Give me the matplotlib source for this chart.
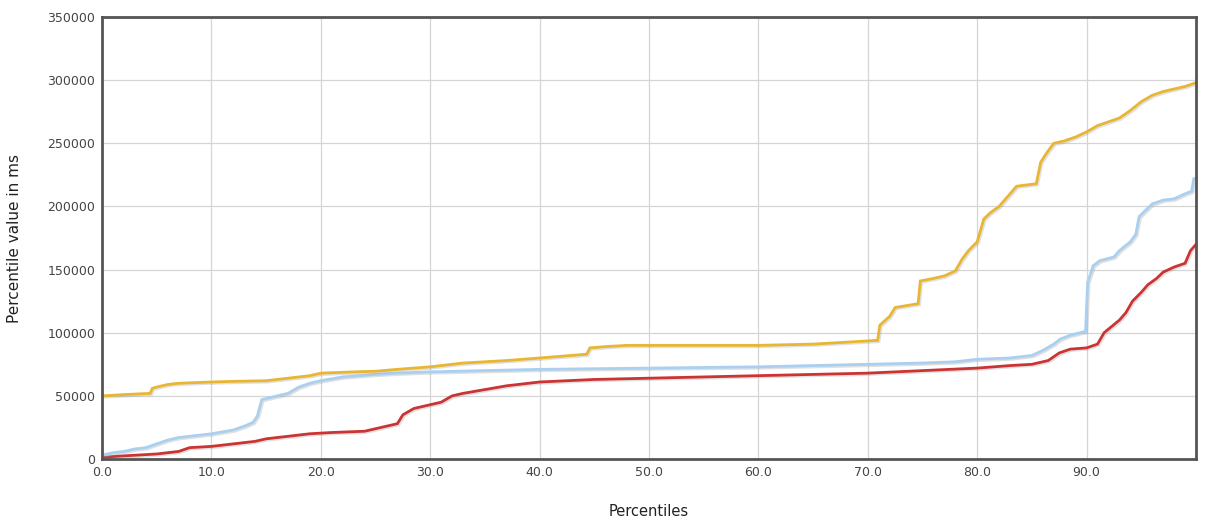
import matplotlib
matplotlib.use("Agg")
import matplotlib.pyplot as plt
import matplotlib.patheffects as pe
from matplotlib.ticker import FuncFormatter

# percentile positions and values (ms)
yellow_x = [0, 2, 4.4, 4.6, 5, 6, 7, 10, 12, 15, 17, 18, 19, 20, 23, 25, 27, 30, 31, 33, 35, 37,
            40, 44.3, 44.6, 46, 48, 55, 60, 65, 67, 69, 70.9, 71.1, 72, 72.5, 74.6, 74.8, 76,
            77, 78, 78.6, 79.2, 80, 80.6, 81.2, 82, 83, 83.6, 85.4, 85.8, 86.4, 87, 88, 89,
            90, 91, 92, 93, 94, 95, 96, 97, 98, 99, 100]
yellow_y = [50000, 51000, 52000, 56000, 57000, 59000, 60000, 61000, 61500, 62000, 64000, 65000,
            66000, 68000, 69000, 69500, 71000, 73000, 74000, 76000, 77000, 78000, 80000,
            83000, 88000, 89000, 90000, 90000, 90000, 91000, 92000, 93000, 94000, 106000,
            113000, 120000, 123000, 141000, 143000, 145000, 149000, 158000, 165000, 172000,
            190000, 195000, 200000, 210000, 216000, 218000, 235000, 243000, 250000, 252000,
            255000, 259000, 264000, 267000, 270000, 276000, 283000, 288000, 291000, 293000,
            295000, 298000]

blue_x = [0, 1, 2, 3, 4, 5, 6, 7, 8, 10, 12, 13, 13.8, 14.2, 14.6, 16, 17, 18, 19, 20, 22, 25,
          27, 30, 35, 40, 50, 60, 70, 75, 78, 80, 83, 85, 86, 87, 87.6, 88.5, 89.4, 89.9, 90.1,
          90.6, 91.2, 92.5, 93, 94, 94.5, 94.8, 96, 97, 98, 99, 99.6, 99.8, 100]
blue_y = [3000, 5000, 6000, 8000, 9000, 12000, 15000, 17000, 18000, 20000, 23000, 26000, 29000,
          34000, 47000, 50000, 52000, 57000, 60000, 62000, 65000, 67000, 68000, 69000, 70000,
          71000, 72000, 73000, 75000, 76000, 77000, 79000, 80000, 82000, 86000, 91000, 95000,
          98000, 100000, 101000, 140000, 153000, 157000, 160000, 165000, 172000, 178000,
          192000, 202000, 205000, 206000, 210000, 212000, 222000, 222000]

red_x = [0, 1, 3, 5, 6, 7, 8, 10, 12, 14, 15, 17, 19, 21, 24, 25, 26, 27, 27.5, 28.5, 29.5, 31,
         32, 33, 35, 37, 40, 45, 50, 55, 60, 65, 70, 75, 80, 83, 85, 86.5, 87.5, 88.5, 90,
         91, 91.6, 92.3, 93, 93.6, 94.2, 95, 95.6, 96.4, 97, 98, 99, 99.5, 100]
red_y = [1000, 2000, 3000, 4000, 5000, 6000, 9000, 10000, 12000, 14000, 16000, 18000, 20000,
         21000, 22000, 24000, 26000, 28000, 35000, 40000, 42000, 45000, 50000, 52000, 55000,
         58000, 61000, 63000, 64000, 65000, 66000, 67000, 68000, 70000, 72000, 74000, 75000,
         78000, 84000, 87000, 88000, 91000, 100000, 105000, 110000, 116000, 125000, 132000,
         138000, 143000, 148000, 152000, 155000, 165000, 170000]

x_ticks = [0, 10, 20, 30, 40, 50, 60, 70, 80, 90]
y_ticks = [0, 50000, 100000, 150000, 200000, 250000, 300000, 350000]

fig = plt.figure(figsize=(12.06, 5.24), dpi=100)
ax = fig.add_axes([0.0846, 0.124, 0.9071, 0.8436])

shadow = [pe.SimpleLineShadow(offset=(1, -1), shadow_color="#999999", alpha=0.3), pe.Normal()]
for xs, ys, col in [(red_x, red_y, "#CC3333"), (blue_x, blue_y, "#A9D0F0"),
                    (yellow_x, yellow_y, "#E8B631")]:
  ax.plot(xs, ys, color=col, linewidth=2.0, solid_joinstyle="miter", path_effects=shadow)

ax.set_xlim(0, 100)
ax.set_ylim(0, 350000)
ax.set_xticks(x_ticks)
ax.set_yticks(y_ticks)
ax.xaxis.set_major_formatter(FuncFormatter(lambda v, _: f"{v:.1f}"))
ax.yaxis.set_major_formatter(FuncFormatter(lambda v, _: f"{int(v)}"))
ax.tick_params(length=0, labelsize=9, labelcolor="#444444", pad=5)

ax.grid(True, color="#d5d5d5", linewidth=0.9)
ax.set_axisbelow(True)
for sp in ax.spines.values():
  sp.set_color("#555555")
  sp.set_linewidth(2)

ax.set_xlabel("Percentiles", fontsize=10.5, color="#222222", labelpad=18)
ax.set_ylabel("Percentile value in ms", fontsize=11, color="#222222", labelpad=18)

fig.savefig("out.png", dpi=100)
